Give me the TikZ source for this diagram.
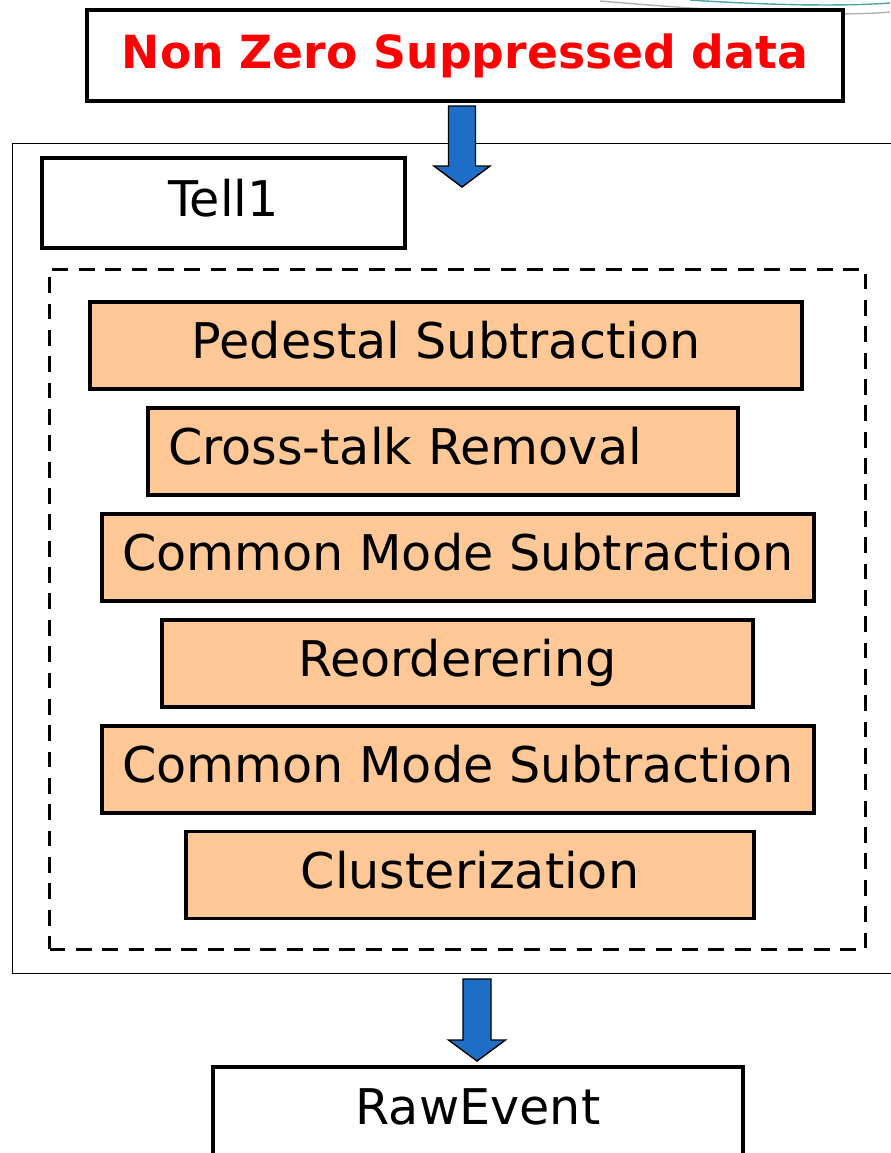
\documentclass[tikz,border=0pt]{standalone}
\usepackage{fontspec}
\setmainfont{DejaVu Sans}
\definecolor{stepfill}{RGB}{255,200,150}
\definecolor{arrowblue}{RGB}{30,110,200}
\begin{document}
\begin{tikzpicture}[
        x=0.02cm, y=-0.02cm,
        every node/.style={font=\fontsize{28}{32}\selectfont, text height=21pt, text depth=6pt},
        plainbox/.style={draw, line width=2pt, fill=white, minimum height=1.8cm},
        stepbox/.style={draw, line width=2pt, fill=stepfill, minimum height=1.74cm},
        blockarrow/.style={draw, line width=0.8pt, fill=arrowblue, line join=miter}
    ]
    \useasboundingbox (0,0) rectangle (890,1153);

    % slide decoration, top right
    \draw[gray!60, line width=0.8pt] (600,1) .. controls (750,14) and (850,16) .. (890,12);
    \draw[teal!70, line width=0.8pt] (690,0) .. controls (780,6) and (850,6) .. (890,3);

    \node[plainbox, line width=2.4pt, minimum width=15.12cm, minimum height=1.82cm, text=red,
        font=\fontsize{26}{30}\selectfont\bfseries] (nzs) at (465,55.5) {Non Zero Suppressed data};

    \node[draw, line width=0.8pt, anchor=north west, minimum width=17.9cm, minimum height=16.6cm] (board) at (12,143) {};

    % block arrows
    \coordinate (arr1) at (462,106);
    \coordinate (arr2) at (477,979);
    \draw[blockarrow, shift={(arr1)}] (-13.5,0) -- (13.5,0) -- (13.5,60) -- (28,60) -- (0,81)
        -- (-28,60) -- (-13.5,60) -- cycle;

    \node[plainbox, minimum width=7.26cm] (tell) at (223.5,203) {Tell1};
    \node[draw, dashed, dash pattern=on 9pt off 6pt, line width=1.8pt, anchor=north west,
        minimum width=16.32cm, minimum height=13.6cm] (algo) at (48,268) {};

    \node[stepbox, minimum width=14.24cm] (ped) at (446,345.5) {Pedestal Subtraction};
    \node[stepbox, minimum width=11.8cm, text width=11cm, inner xsep=0.4cm, align=left] (xtalk) at (443,451.5) {Cross-talk Removal};
    \node[stepbox, minimum width=14.24cm] (cms1) at (458,557.5) {Common Mode Subtraction};
    \node[stepbox, minimum width=11.82cm] (reord) at (457.5,663.5) {Reorderering};
    \node[stepbox, minimum width=14.24cm] (cms2) at (458,769.5) {Common Mode Subtraction};
    \node[stepbox, minimum width=11.36cm] (clus) at (470,875) {Clusterization};

    \draw[blockarrow, shift={(arr2)}] (-14,0) -- (14,0) -- (14,61) -- (28.5,61) -- (0,82)
        -- (-28.5,61) -- (-14,61) -- cycle;
    \node[plainbox, anchor=north, minimum width=10.6cm] (raw) at (478,1065) {RawEvent};

\end{tikzpicture}
\end{document}
